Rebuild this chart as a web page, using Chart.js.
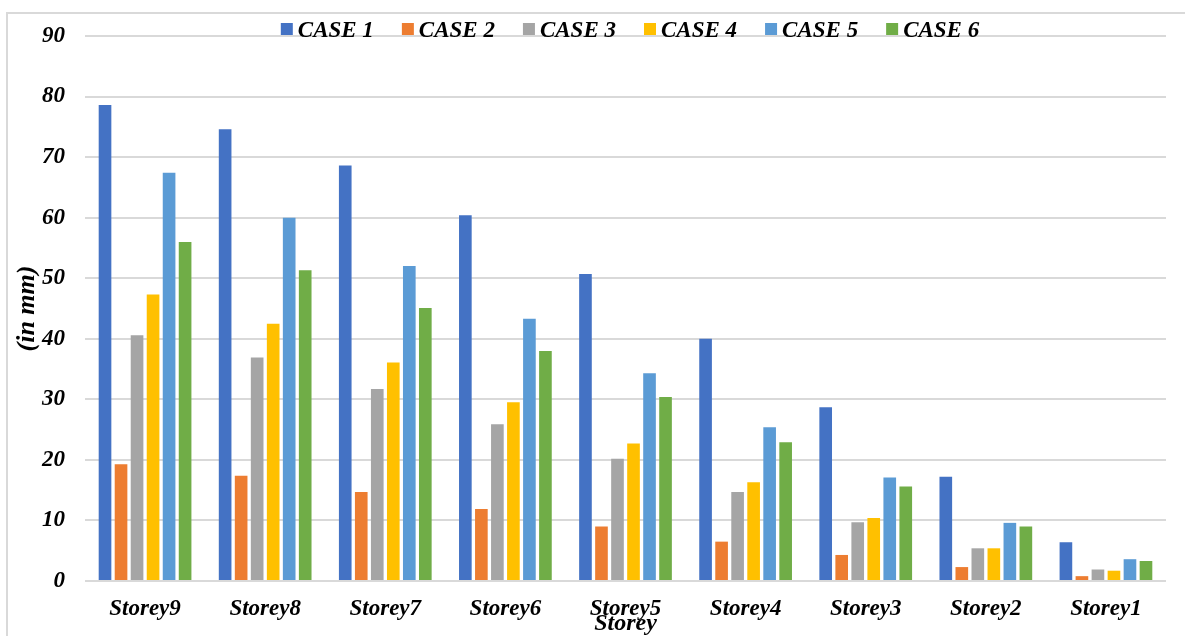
<!DOCTYPE html>
<html>
<head>
<meta charset="utf-8">
<script src="https://cdn.jsdelivr.net/npm/chart.js@4"></script>
<style>
  html, body { margin: 0; padding: 0; background: #fff; }
  #wrap { position: relative; width: 1185px; height: 636px; overflow: hidden; }
  #frame { position: absolute; left: 6px; top: 12px; width: 1300px; height: 700px;
           border-left: 2px solid #d9d9d9; border-top: 2px solid #d9d9d9; }
  canvas { position: absolute; left: 0; top: 0; }
</style>
</head>
<body>
<div id="wrap">
  <div id="frame"></div>
  <canvas id="c" width="1185" height="636"></canvas>
</div>
<script>
const categories = ['Storey9','Storey8','Storey7','Storey6','Storey5','Storey4','Storey3','Storey2','Storey1'];
const seriesNames = ['CASE 1','CASE 2','CASE 3','CASE 4','CASE 5','CASE 6'];
const case1 = [78.6, 74.6, 68.6, 60.4, 50.7, 40.0, 28.7, 17.2, 6.4];
const case2 = [19.3, 17.4, 14.7, 11.9, 9.0, 6.5, 4.3, 2.3, 0.8];
const case3 = [40.6, 36.9, 31.7, 25.9, 20.2, 14.7, 9.7, 5.4, 1.9];
const case4 = [47.3, 42.5, 36.1, 29.5, 22.7, 16.3, 10.4, 5.4, 1.7];
const case5 = [67.4, 60.0, 52.0, 43.3, 34.3, 25.4, 17.1, 9.6, 3.6];
const case6 = [56.0, 51.3, 45.1, 38.0, 30.4, 22.9, 15.6, 9.0, 3.3];
const yTicks = [0,10,20,30,40,50,60,70,80,90];
const colors = ['#4472C4','#ED7D31','#A5A5A5','#FFC000','#5B9BD5','#70AD47'];
const allSeries = [case1, case2, case3, case4, case5, case6];

const FONT = '"Liberation Serif", "Times New Roman", serif';

const legendPlugin = {
  id: 'topLegend',
  afterDraw(chart) {
    const ctx = chart.ctx;
    ctx.save();
    ctx.font = 'italic bold 23px ' + FONT;
    const box = 12, gap = 5, spacing = 28;
    const widths = seriesNames.map(n => ctx.measureText(n).width);
    let total = 0;
    widths.forEach((w, i) => { total += box + gap + w + (i < widths.length - 1 ? spacing : 0); });
    let x = 630 - total / 2;
    const yc = 30;
    ctx.textBaseline = 'middle';
    ctx.textAlign = 'left';
    seriesNames.forEach((n, i) => {
      ctx.fillStyle = chart.data.datasets[i].backgroundColor;
      ctx.fillRect(x, yc - box / 2 - 1, box, box);
      ctx.fillStyle = '#000';
      ctx.fillText(n, x + box + gap, yc + 1);
      x += box + gap + widths[i] + spacing;
    });
    ctx.restore();
  }
};

new Chart(document.getElementById('c'), {
  type: 'bar',
  data: {
    labels: categories,
    datasets: seriesNames.map((n, i) => ({
      label: n,
      data: allSeries[i],
      backgroundColor: colors[i],
      borderWidth: 0,
      categoryPercentage: 0.8,
      barPercentage: 0.79
    }))
  },
  options: {
    responsive: false,
    animation: false,
    devicePixelRatio: 1,
    layout: { padding: { top: 36, right: 19, left: 0, bottom: 0 } },
    plugins: {
      legend: { display: false },
      tooltip: { enabled: false }
    },
    scales: {
      x: {
        grid: { display: false, drawTicks: false },
        border: { display: false },
        ticks: {
          color: '#000',
          padding: 14,
          font: { family: FONT, size: 23, style: 'italic', weight: 'bold' }
        },
        title: {
          display: true,
          text: 'Storey',
          color: '#000',
          padding: { top: 0, bottom: -2 },
          font: { family: FONT, size: 24, style: 'italic', weight: 'bold' }
        },
        afterFit(scale) { scale.height = 55; }
      },
      y: {
        min: 0,
        max: 90,
        afterBuildTicks(scale) { scale.ticks = yTicks.map(v => ({ value: v })); },
        grid: { color: '#d9d9d9', lineWidth: 2, drawTicks: false },
        border: { display: false },
        ticks: {
          color: '#000',
          padding: 20,
          font: { family: FONT, size: 23, style: 'italic', weight: 'bold' }
        },
        title: {
          display: true,
          text: '(in mm)',
          color: '#000',
          padding: { top: 12, bottom: 0 },
          font: { family: FONT, size: 26, style: 'italic', weight: 'bold' }
        },
        afterFit(scale) { scale.width = 85; }
      }
    }
  },
  plugins: [legendPlugin]
});
</script>
</body>
</html>
